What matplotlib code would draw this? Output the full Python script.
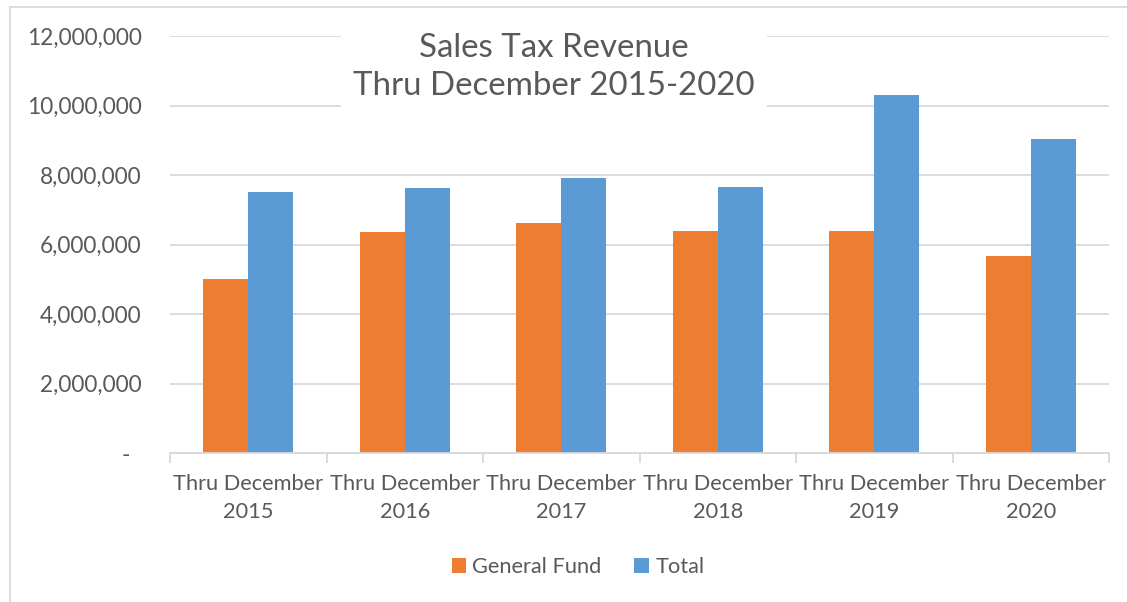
import numpy as np
import matplotlib
matplotlib.use("Agg")
import matplotlib.pyplot as plt
from matplotlib.patches import Rectangle
from matplotlib.ticker import FuncFormatter

plt.rcParams["font.family"] = ["Lato", "DejaVu Sans"]

years = ["2015", "2016", "2017", "2018", "2019", "2020"]
categories = [f"Thru December\n{y}" for y in years]
general_fund = [5010000, 6370000, 6610000, 6400000, 6390000, 5680000]
total = [7520000, 7630000, 7910000, 7650000, 10300000, 9030000]

orange = "#ED7D31"
blue = "#5B9BD5"
text_c = "#595959"
grid_c = "#D9D9D9"

fig = plt.figure(figsize=(11.27, 6.02), dpi=100)
ax = fig.add_axes([170/1127, 1-453/602, (1109-170)/1127, (453-36.3)/602])

# chart border (cropped on right / bottom)
fig.patches.append(Rectangle((10/1127, -0.1), 1.2, 1.1-7/602, transform=fig.transFigure,
                             fill=False, edgecolor=grid_c, lw=1.3))

x = np.arange(len(categories))
w = 0.2875
ax.bar(x - w/2, general_fund, w, color=orange, label="General Fund", zorder=3)
ax.bar(x + w/2, total, w, color=blue, label="Total", zorder=3)

ax.set_xlim(-0.5, len(categories) - 0.5)
ax.set_ylim(0, 12000000)
ax.set_yticks(np.arange(0, 12000001, 2000000))
ax.yaxis.set_major_formatter(FuncFormatter(lambda v, p: "-  " if v == 0 else f"{int(v):,}"))
ax.grid(axis="y", color=grid_c, lw=1.3, zorder=0)
ax.set_axisbelow(True)

for s in ["top", "right", "left"]:
    ax.spines[s].set_visible(False)
ax.spines["bottom"].set_color(grid_c)
ax.spines["bottom"].set_linewidth(1.3)
ax.spines["bottom"].set_zorder(4)

ax.set_xticks(x)
ax.set_xticklabels(categories, linespacing=1.5)
ax.set_xticks(np.arange(-0.5, len(categories)), minor=True)
ax.tick_params(axis="x", which="major", length=0, pad=15, labelsize=15.7, labelcolor=text_c)
ax.tick_params(axis="x", which="minor", length=7, width=1.3, color=grid_c)
ax.tick_params(axis="y", length=0, pad=20.5, labelsize=16.3, labelcolor=text_c)

ax.text(554/1127, 1-67/602, "Sales Tax Revenue\nThru December 2015-2020",
        transform=fig.transFigure, ha="center", va="center", fontsize=23.8,
        color=text_c, linespacing=1.3, zorder=5,
        bbox=dict(facecolor="white", edgecolor="none", pad=9))

fig.legend(loc="center", bbox_to_anchor=(578/1127, 1-567/602), ncol=2, frameon=False,
           fontsize=15.7, labelcolor=text_c, handlelength=0.65, handleheight=0.65,
           handletextpad=0.3, columnspacing=1.5)

fig.savefig("out.png", dpi=100, facecolor="white")
